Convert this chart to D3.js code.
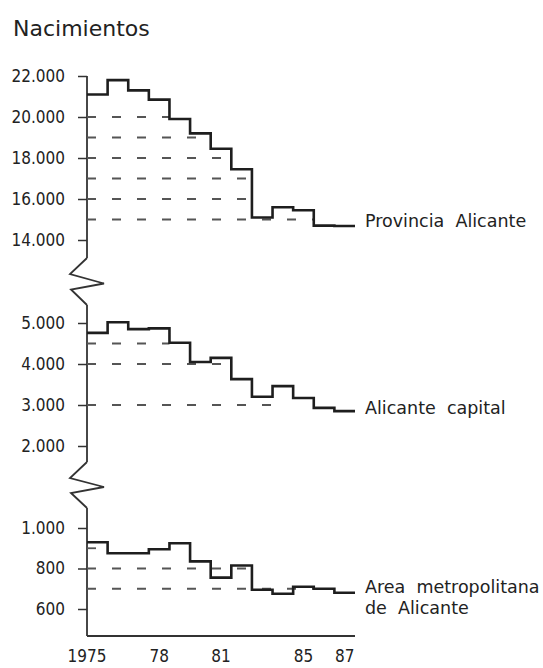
<!DOCTYPE html>
<html>
<head>
<meta charset="utf-8">
<script src="https://cdn.jsdelivr.net/npm/d3@7"></script>
<style>
  body { margin: 0; background: #fff; }
  text { font-family: 'DejaVu Sans', sans-serif; fill: #222; white-space: pre; }
  .tick-label { font-stretch: condensed; font-size: 17px; }
</style>
</head>
<body>
<div id="chart"></div>
<script>
// years 1975..1987, one step per year
const years = d3.range(1975, 1988);

const provincia = [21100, 21800, 21300, 20850, 19900, 19200, 18450, 17450, 15100, 15600, 15450, 14700, 14680];
const capital = [4760, 5020, 4850, 4870, 4520, 4050, 4150, 3630, 3200, 3460, 3170, 2930, 2850];
const metropolitana = [930, 875, 875, 895, 925, 835, 755, 815, 695, 675, 710, 700, 680];

const provinciaTicks = [22000, 20000, 18000, 16000, 14000];
const capitalTicks = [5000, 4000, 3000, 2000];
const metropolitanaTicks = [1000, 800, 600];

// guide lines: [value, year where the dashes stop]
const provinciaGuides = [[20000, 1979], [19000, 1981], [18000, 1982], [17000, 1983], [16000, 1983], [15000, 1986]];
const capitalGuides = [[4500, 1979], [4000, 1982], [3000, 1984]];
const metropolitanaGuides = [[900, 1976], [800, 1983], [700, 1986]];

const yearLabels = [1975, 1978, 1981, 1985, 1987];
const yearText = ['1975', '78', '81', '85', '87'];

const W = 543, H = 668;
const axisX = 87, endX = 355, baseY = 636;

const svg = d3.select('#chart').append('svg')
    .attr('width', W)
    .attr('height', H);

const x = d3.scaleLinear()
    .domain([1975, 1988])
    .range([axisX, endX]);

const fmt = v => v >= 1000 ? d3.format(',')(v).replace(',', '.') : String(v);

svg.append('text')
    .attr('x', 13)
    .attr('y', 36)
    .style('font-size', '22px')
    .text('Nacimientos');

const panels = [
    { values: provincia, ticks: provinciaTicks, guides: provinciaGuides, domain: [14000, 22000], range: [240, 76],
      axisTop: 76, axisBottom: 258, label: ['Provincia  Alicante'], labelY: 227 },
    { values: capital, ticks: capitalTicks, guides: capitalGuides, domain: [2000, 5000], range: [446, 323],
      axisTop: 305, axisBottom: 462, label: ['Alicante  capital'], labelY: 414 },
    { values: metropolitana, ticks: metropolitanaTicks, guides: metropolitanaGuides, domain: [600, 1000], range: [609, 528],
      axisTop: 508, axisBottom: baseY, label: ['Area  metropolitana', 'de  Alicante'], labelY: 593 },
];

const step = d3.line()
    .x(d => x(d[0]))
    .y(d => d[1])
    .curve(d3.curveStepAfter);

panels.forEach(p => {
    const y = d3.scaleLinear().domain(p.domain).range(p.range);
    const g = svg.append('g');

    // axis line
    g.append('line')
        .attr('x1', axisX).attr('x2', axisX)
        .attr('y1', p.axisTop).attr('y2', p.axisBottom)
        .attr('stroke', '#333').attr('stroke-width', 1.8);

    // ticks
    const yAxis = d3.axisLeft(y)
        .tickValues(p.ticks)
        .tickSize(9)
        .tickFormat(fmt);
    const ax = g.append('g')
        .attr('transform', `translate(${axisX},0)`)
        .call(yAxis);
    ax.select('.domain').remove();
    ax.selectAll('.tick line').attr('stroke', '#333').attr('stroke-width', 1.5);
    ax.selectAll('.tick text')
        .attr('class', 'tick-label')
        .attr('x', -22)
        .attr('fill', '#222')
        .style('font-family', "'DejaVu Sans', sans-serif");

    // dashed guides
    g.selectAll('.guide')
        .data(p.guides)
        .enter().append('line')
        .attr('class', 'guide')
        .attr('x1', axisX)
        .attr('x2', d => x(d[1]))
        .attr('y1', d => y(d[0]))
        .attr('y2', d => y(d[0]))
        .attr('stroke', '#555')
        .attr('stroke-width', 1.8)
        .attr('stroke-dasharray', '9,16');

    // step line
    const pts = years.map((yr, i) => [yr, y(p.values[i])]);
    pts.push([1988, y(p.values[p.values.length - 1])]);
    g.append('path')
        .attr('d', step(pts))
        .attr('fill', 'none')
        .attr('stroke', '#1e1e1e')
        .attr('stroke-width', 2.6);

    // series label
    p.label.forEach((t, i) => {
        g.append('text')
            .attr('x', 365)
            .attr('y', p.labelY + i * 21)
            .style('font-size', '17.5px')
            .attr('fill', '#161616')
            .text(t);
    });
});

// axis breaks (zigzags)
const zig = (top, bottom) => {
    const mid = (top + bottom) / 2;
    return [[axisX, top], [axisX - 17, top + 16], [axisX + 17, mid + 2], [axisX - 16, mid + 8], [axisX, bottom]];
};
[[258, 305], [462, 508]].forEach(([t, b]) => {
    svg.append('path')
        .attr('d', d3.line()(zig(t, b)))
        .attr('fill', 'none')
        .attr('stroke', '#333')
        .attr('stroke-width', 1.8);
});

// x baseline
svg.append('line')
    .attr('x1', axisX).attr('x2', endX)
    .attr('y1', baseY).attr('y2', baseY)
    .attr('stroke', '#333').attr('stroke-width', 1.8);

svg.selectAll('.year')
    .data(yearLabels)
    .enter().append('text')
    .attr('class', 'year tick-label')
    .attr('x', (d, i) => i === 0 ? x(d) : x(d + 0.5))
    .attr('y', 662)
    .attr('text-anchor', 'middle')
    .text((d, i) => yearText[i]);
</script>
</body>
</html>
